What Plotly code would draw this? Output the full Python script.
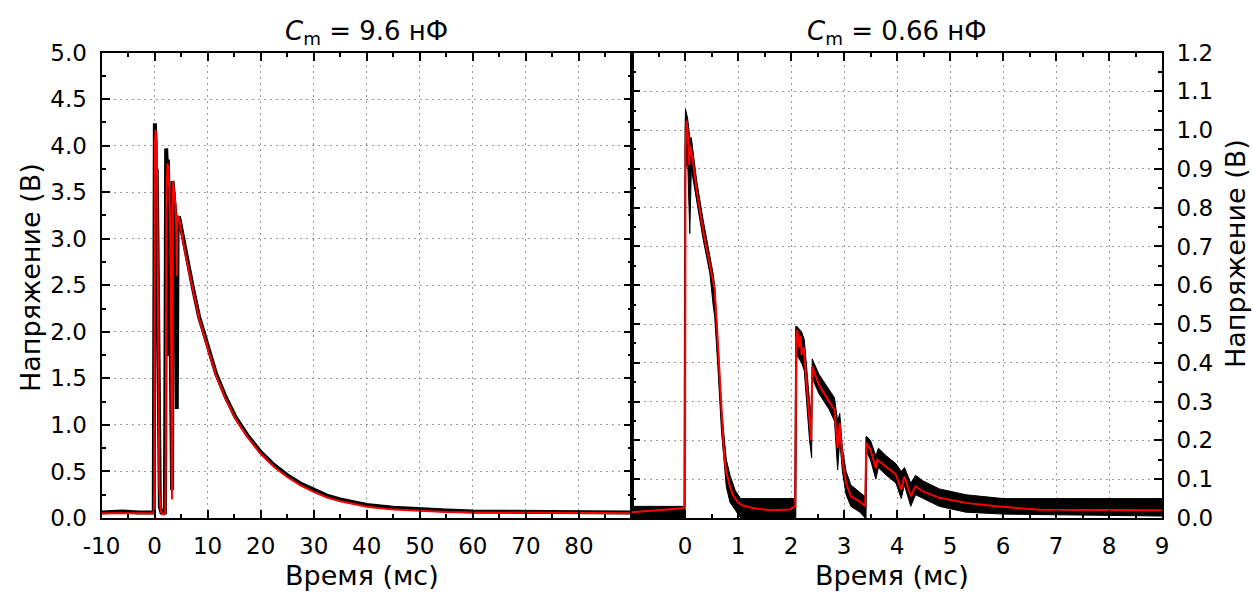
import plotly.graph_objects as go

# ---------------- data ----------------
# Left panel, C_m = 9.6 nF, time in ms, voltage in V
left_red_t = [-10, -6, -3, -0.15, -0.05, 0.05, 0.2, 0.35, 0.5, 0.62, 0.75, 0.9, 1.1, 1.4, 1.8,
              2.0, 2.1, 2.25, 2.45, 2.6, 2.8, 2.95, 3.1, 3.2, 3.28, 3.36, 3.45, 3.7, 3.95, 4.1,
              4.2, 4.3, 4.6, 5.9, 7.2, 8.4, 10, 11.6, 13.4, 15.3, 17.5, 20, 22.5, 25, 27.5, 30,
              32.5, 35, 37.5, 40, 45, 50, 55, 60, 70, 80, 90]
left_red_v = [0.05, 0.05, 0.05, 0.05, 0.3, 4.0, 4.17, 4.0, 3.6, 2.2, 1.0, 0.35, 0.1, 0.04, 0.04,
              0.06, 0.5, 3.5, 3.81, 3.75, 3.5, 3.1, 2.2, 1.0, 0.2, 1.5, 3.62, 3.5, 3.35, 3.1,
              2.6, 3.25, 3.22, 2.81, 2.46, 2.14, 1.83, 1.53, 1.28, 1.06, 0.87, 0.69, 0.55, 0.44,
              0.35, 0.28, 0.22, 0.18, 0.15, 0.12, 0.09, 0.075, 0.065, 0.06, 0.055, 0.05, 0.05]

left_black_t = [-10, -6, -3, -0.15, 0.0, 0.06, 0.2, 0.31, 0.4, 0.55, 0.7, 0.85, 1.0, 1.3, 1.95,
                2.05, 2.19, 2.35, 2.5, 2.7, 2.8, 2.9, 3.05, 3.2, 3.3, 3.4, 3.6, 3.8, 4.0, 4.19,
                4.35, 4.6, 5.9, 7.2, 8.4, 10, 11.6, 13.4, 15.3, 17.5, 20, 22.5, 25, 27.5, 30,
                32.5, 35, 37.5, 40, 45, 50, 55, 60, 70, 80, 90]
left_black_v = [0.06, 0.07, 0.06, 0.06, 3.0, 4.24, 4.05, 3.14, 3.75, 3.0, 1.5, 0.5, 0.12, 0.06, 0.06,
                1.5, 3.97, 3.75, 3.85, 3.3, 1.74, 3.2, 1.9, 0.9, 0.3, 3.62, 3.5, 3.4, 3.2, 1.17,
                3.2, 3.24, 2.83, 2.48, 2.16, 1.85, 1.55, 1.30, 1.08, 0.89, 0.71, 0.57, 0.46, 0.37,
                0.30, 0.24, 0.20, 0.17, 0.14, 0.11, 0.09, 0.08, 0.07, 0.065, 0.06, 0.06]

# Right panel, C_m = 0.66 nF
right_red_t = [-1, -0.5, -0.05, 0.0, 0.01, 0.03, 0.06, 0.08, 0.1, 0.15, 0.22, 0.34, 0.47, 0.56,
               0.6, 0.65, 0.69, 0.74, 0.78, 0.85, 0.91, 1.0, 1.09, 1.3, 1.6, 1.97, 2.08, 2.1,
               2.12, 2.15, 2.18, 2.2, 2.24, 2.3, 2.35, 2.38, 2.4, 2.45, 2.53, 2.72, 2.82, 2.88,
               2.92, 2.97, 3.04, 3.13, 3.29, 3.4, 3.42, 3.5, 3.6, 3.63, 3.79, 3.98, 4.08, 4.14,
               4.26, 4.35, 4.48, 4.8, 5.3, 5.87, 6.7, 7.5, 8.5, 9]
right_red_v = [0.015, 0.02, 0.025, 0.03, 0.95, 1.024, 0.98, 0.91, 0.96, 0.92, 0.845, 0.742, 0.656,
               0.59, 0.5, 0.38, 0.26, 0.16, 0.118, 0.08, 0.058, 0.04, 0.032, 0.025, 0.02, 0.022,
               0.03, 0.46, 0.485, 0.44, 0.47, 0.42, 0.44, 0.33, 0.253, 0.2, 0.39, 0.37, 0.343,
               0.3, 0.279, 0.18, 0.245, 0.15, 0.09, 0.056, 0.043, 0.03, 0.193, 0.176, 0.129,
               0.15, 0.133, 0.112, 0.073, 0.107, 0.056, 0.082, 0.069, 0.052, 0.039, 0.03, 0.021,
               0.02, 0.02, 0.02]

# raw (black) trace of the right panel as an envelope: upper / lower edge
right_blk_t = [-1, -0.02, 0.0, 0.01, 0.05, 0.09, 0.12, 0.22, 0.34, 0.47, 0.53, 0.56, 0.62, 0.69,
               0.78, 0.85, 0.95, 1.05, 2.07, 2.09, 2.11, 2.2, 2.25, 2.35, 2.39, 2.4, 2.53, 2.72,
               2.82, 2.88, 2.92, 2.97, 3.04, 3.13, 3.3, 3.4, 3.415, 3.43, 3.5, 3.6, 3.65, 3.8,
               3.98, 4.08, 4.14, 4.26, 4.35, 4.5, 4.8, 5.3, 6.0, 9.0]
right_blk_hi = [0.03, 0.03, 1.0, 1.054, 1.03, 0.98, 0.98, 0.87, 0.77, 0.68, 0.63, 0.6, 0.44, 0.28,
                0.15, 0.11, 0.07, 0.05, 0.05, 0.494, 0.494, 0.48, 0.46, 0.3, 0.26, 0.41, 0.37, 0.33,
                0.31, 0.25, 0.27, 0.18, 0.12, 0.085, 0.065, 0.055, 0.21, 0.21, 0.2, 0.16, 0.18,
                0.16, 0.14, 0.12, 0.13, 0.09, 0.11, 0.095, 0.075, 0.06, 0.05, 0.05]
right_blk_lo = [0.0, 0.0, 0.0, 0.9, 0.92, 0.733, 0.9, 0.82, 0.72, 0.63, 0.55, 0.52, 0.39, 0.22,
                0.08, 0.04, 0.02, 0.0, 0.0, 0.0, 0.42, 0.40, 0.38, 0.2, 0.155, 0.36, 0.32, 0.28,
                0.25, 0.124, 0.2, 0.12, 0.06, 0.03, 0.015, 0.0, 0.0, 0.17, 0.15, 0.1, 0.13, 0.11,
                0.09, 0.05, 0.085, 0.03, 0.06, 0.05, 0.03, 0.015, 0.01, 0.005]

left_xticks = [-10, 0, 10, 20, 30, 40, 50, 60, 70, 80]
right_xticks = [0, 1, 2, 3, 4, 5, 6, 7, 8, 9]
titles = ["<i>C</i><sub>m</sub> = 9.6 нФ", "<i>C</i><sub>m</sub> = 0.66 нФ"]
x_title = "Время (мс)"
y_title = "Напряжение (В)"

# ---------------- figure ----------------
FONT = "DejaVu Sans"
fig = go.Figure()

fig.add_trace(go.Scatter(x=left_black_t, y=left_black_v, mode="lines",
                         line=dict(color="black", width=4), xaxis="x", yaxis="y",
                         showlegend=False))
fig.add_trace(go.Scatter(x=left_red_t, y=left_red_v, mode="lines",
                         line=dict(color="#ff0000", width=2), xaxis="x", yaxis="y",
                         showlegend=False))

env_x = right_blk_t + right_blk_t[::-1]
env_y = right_blk_hi + right_blk_lo[::-1]
fig.add_trace(go.Scatter(x=env_x, y=env_y, mode="lines", fill="toself",
                         fillcolor="black", line=dict(color="black", width=1),
                         xaxis="x2", yaxis="y2", showlegend=False))
fig.add_trace(go.Scatter(x=right_red_t, y=right_red_v, mode="lines",
                         line=dict(color="#ff0000", width=2), xaxis="x2", yaxis="y2",
                         showlegend=False))

x0, xm, x1 = 101.5 / 1253, 632 / 1253, 1162 / 1253
y0, y1 = (595 - 518) / 595, (595 - 52.5) / 595

common = dict(showline=True, linecolor="black", linewidth=2, mirror="allticks",
              ticks="inside", ticklen=8, tickwidth=2, tickcolor="black",
              showgrid=True, gridcolor="#9a9a9a", gridwidth=1, griddash="2px,4px",
              zeroline=False, automargin=False,
              tickfont=dict(family=FONT, size=23, color="black"))

fig.update_layout(
    width=1253, height=595,
    margin=dict(l=0, r=0, t=0, b=0, autoexpand=False),
    paper_bgcolor="white", plot_bgcolor="white",
    xaxis=dict(domain=[x0, xm], range=[-10, 90], tickmode="array",
               tickvals=left_xticks, ticktext=[str(v) for v in left_xticks],
               minor=dict(ticks="inside", ticklen=4, tickwidth=2, tickcolor="black",
                          tickmode="linear", tick0=0, dtick=5, showgrid=False),
               anchor="y", ticklabelstandoff=6, **common),
    yaxis=dict(domain=[y0, y1], range=[0, 5], dtick=0.5, tick0=0, tickformat=".1f",
               minor=dict(ticks="inside", ticklen=4, tickwidth=2, tickcolor="black",
                          dtick=0.25, tick0=0, showgrid=False),
               anchor="x", ticklabelstandoff=8, **common),
    xaxis2=dict(domain=[xm, x1], range=[-1, 9], tickmode="array",
                tickvals=right_xticks, ticktext=[str(v) for v in right_xticks],
                minor=dict(ticks="inside", ticklen=4, tickwidth=2, tickcolor="black",
                           tickmode="linear", tick0=0, dtick=0.5, showgrid=False),
                anchor="y2", ticklabelstandoff=6, **common),
    yaxis2=dict(domain=[y0, y1], range=[0, 1.2], dtick=0.1, tick0=0, tickformat=".1f",
                minor=dict(ticks="inside", ticklen=4, tickwidth=2, tickcolor="black",
                           dtick=0.05, tick0=0, showgrid=False),
                side="right", anchor="x2", ticklabelstandoff=8, **common),
)

ann = []
for cx, txt in zip([(x0 + xm) / 2, (xm + x1) / 2], titles):
    ann.append(dict(x=cx, y=(595 - 32) / 595, xref="paper", yref="paper", text=txt,
                    showarrow=False, xanchor="center", yanchor="middle",
                    font=dict(family=FONT, size=26, color="black")))
for cx in [362 / 1253, 892 / 1253]:
    ann.append(dict(x=cx, y=(595 - 575) / 595, xref="paper", yref="paper", text=x_title,
                    showarrow=False, xanchor="center", yanchor="middle",
                    font=dict(family=FONT, size=27, color="black")))
for cx, cy in [(30 / 1253, (595 - 278) / 595), (1235 / 1253, (595 - 254) / 595)]:
    ann.append(dict(x=cx, y=cy, xref="paper", yref="paper", text=y_title,
                    showarrow=False, xanchor="center", yanchor="middle", textangle=-90,
                    font=dict(family=FONT, size=27, color="black")))
fig.update_layout(annotations=ann)

fig.write_html("out.html", config={"displayModeBar": False},
               post_script="document.body.style.margin='0px';document.body.style.padding='0px';")
